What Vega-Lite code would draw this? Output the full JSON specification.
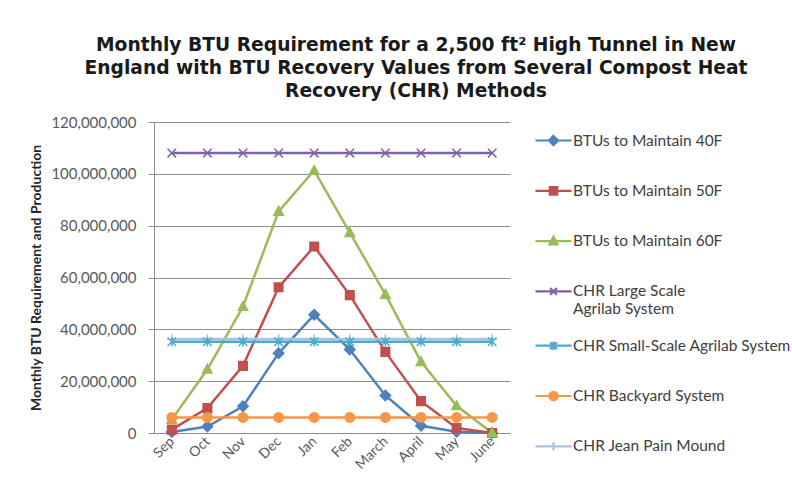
{
  "$schema": "https://vega.github.io/schema/vega-lite/v6.json",
  "autosize": "none",
  "width": 356,
  "height": 311,
  "padding": {"left": 154, "top": 122, "right": 282, "bottom": 62},
  "background": "#ffffff",
  "config": {
    "font": "Lato",
    "view": {"stroke": null},
    "legend": {
      "orient": "right",
      "offset": 24.5,
      "padding": 0,
      "symbolSize": 1156,
      "symbolStrokeWidth": 2.2,
      "symbolOpacity": 1,
      "labelFont": "Lato",
      "labelFontSize": 15.5,
      "labelColor": "#404040",
      "labelOffset": 1,
      "labelLimit": 320,
      "rowPadding": 5.3
    }
  },
  "title": {
    "text": [
      "Monthly BTU Requirement for a 2,500 ft² High Tunnel in New",
      "England with BTU Recovery Values from Several Compost Heat",
      "Recovery (CHR) Methods"
    ],
    "font": "DejaVu Sans",
    "fontSize": 18.7,
    "fontWeight": "bold",
    "color": "#1a1a1a",
    "anchor": "middle",
    "frame": "group",
    "dx": 84,
    "offset": 14,
    "lineHeight": 23
  },
  "data": {
    "values": [
      {"month": "Sep", "series": "BTUs to Maintain 40F", "value": 400000},
      {"month": "Oct", "series": "BTUs to Maintain 40F", "value": 2500000},
      {"month": "Nov", "series": "BTUs to Maintain 40F", "value": 10300000},
      {"month": "Dec", "series": "BTUs to Maintain 40F", "value": 30800000},
      {"month": "Jan", "series": "BTUs to Maintain 40F", "value": 45600000},
      {"month": "Feb", "series": "BTUs to Maintain 40F", "value": 32200000},
      {"month": "March", "series": "BTUs to Maintain 40F", "value": 14500000},
      {"month": "April", "series": "BTUs to Maintain 40F", "value": 2800000},
      {"month": "May", "series": "BTUs to Maintain 40F", "value": 500000},
      {"month": "June", "series": "BTUs to Maintain 40F", "value": 0},

      {"month": "Sep", "series": "BTUs to Maintain 50F", "value": 1300000},
      {"month": "Oct", "series": "BTUs to Maintain 50F", "value": 9600000},
      {"month": "Nov", "series": "BTUs to Maintain 50F", "value": 25900000},
      {"month": "Dec", "series": "BTUs to Maintain 50F", "value": 56200000},
      {"month": "Jan", "series": "BTUs to Maintain 50F", "value": 72000000},
      {"month": "Feb", "series": "BTUs to Maintain 50F", "value": 53200000},
      {"month": "March", "series": "BTUs to Maintain 50F", "value": 31300000},
      {"month": "April", "series": "BTUs to Maintain 50F", "value": 12300000},
      {"month": "May", "series": "BTUs to Maintain 50F", "value": 1900000},
      {"month": "June", "series": "BTUs to Maintain 50F", "value": 0},

      {"month": "Sep", "series": "BTUs to Maintain 60F", "value": 5200000},
      {"month": "Oct", "series": "BTUs to Maintain 60F", "value": 24600000},
      {"month": "Nov", "series": "BTUs to Maintain 60F", "value": 48800000},
      {"month": "Dec", "series": "BTUs to Maintain 60F", "value": 85500000},
      {"month": "Jan", "series": "BTUs to Maintain 60F", "value": 101300000},
      {"month": "Feb", "series": "BTUs to Maintain 60F", "value": 77300000},
      {"month": "March", "series": "BTUs to Maintain 60F", "value": 53500000},
      {"month": "April", "series": "BTUs to Maintain 60F", "value": 27500000},
      {"month": "May", "series": "BTUs to Maintain 60F", "value": 10500000},
      {"month": "June", "series": "BTUs to Maintain 60F", "value": 0},

      {"month": "Sep", "series": "CHR Large Scale Agrilab System", "value": 108000000},
      {"month": "Oct", "series": "CHR Large Scale Agrilab System", "value": 108000000},
      {"month": "Nov", "series": "CHR Large Scale Agrilab System", "value": 108000000},
      {"month": "Dec", "series": "CHR Large Scale Agrilab System", "value": 108000000},
      {"month": "Jan", "series": "CHR Large Scale Agrilab System", "value": 108000000},
      {"month": "Feb", "series": "CHR Large Scale Agrilab System", "value": 108000000},
      {"month": "March", "series": "CHR Large Scale Agrilab System", "value": 108000000},
      {"month": "April", "series": "CHR Large Scale Agrilab System", "value": 108000000},
      {"month": "May", "series": "CHR Large Scale Agrilab System", "value": 108000000},
      {"month": "June", "series": "CHR Large Scale Agrilab System", "value": 108000000},

      {"month": "Sep", "series": "CHR Jean Pain Mound", "value": 36300000},
      {"month": "Oct", "series": "CHR Jean Pain Mound", "value": 36300000},
      {"month": "Nov", "series": "CHR Jean Pain Mound", "value": 36300000},
      {"month": "Dec", "series": "CHR Jean Pain Mound", "value": 36300000},
      {"month": "Jan", "series": "CHR Jean Pain Mound", "value": 36300000},
      {"month": "Feb", "series": "CHR Jean Pain Mound", "value": 36300000},
      {"month": "March", "series": "CHR Jean Pain Mound", "value": 36300000},
      {"month": "April", "series": "CHR Jean Pain Mound", "value": 36300000},
      {"month": "May", "series": "CHR Jean Pain Mound", "value": 36300000},
      {"month": "June", "series": "CHR Jean Pain Mound", "value": 36300000},

      {"month": "Sep", "series": "CHR Small-Scale Agrilab System", "value": 35200000},
      {"month": "Oct", "series": "CHR Small-Scale Agrilab System", "value": 35200000},
      {"month": "Nov", "series": "CHR Small-Scale Agrilab System", "value": 35200000},
      {"month": "Dec", "series": "CHR Small-Scale Agrilab System", "value": 35200000},
      {"month": "Jan", "series": "CHR Small-Scale Agrilab System", "value": 35200000},
      {"month": "Feb", "series": "CHR Small-Scale Agrilab System", "value": 35200000},
      {"month": "March", "series": "CHR Small-Scale Agrilab System", "value": 35200000},
      {"month": "April", "series": "CHR Small-Scale Agrilab System", "value": 35200000},
      {"month": "May", "series": "CHR Small-Scale Agrilab System", "value": 35200000},
      {"month": "June", "series": "CHR Small-Scale Agrilab System", "value": 35200000},

      {"month": "Sep", "series": "CHR Backyard System", "value": 6000000},
      {"month": "Oct", "series": "CHR Backyard System", "value": 6000000},
      {"month": "Nov", "series": "CHR Backyard System", "value": 6000000},
      {"month": "Dec", "series": "CHR Backyard System", "value": 6000000},
      {"month": "Jan", "series": "CHR Backyard System", "value": 6000000},
      {"month": "Feb", "series": "CHR Backyard System", "value": 6000000},
      {"month": "March", "series": "CHR Backyard System", "value": 6000000},
      {"month": "April", "series": "CHR Backyard System", "value": 6000000},
      {"month": "May", "series": "CHR Backyard System", "value": 6000000},
      {"month": "June", "series": "CHR Backyard System", "value": 6000000}
    ]
  },
  "encoding": {
    "x": {
      "field": "month",
      "type": "ordinal",
      "sort": ["Sep", "Oct", "Nov", "Dec", "Jan", "Feb", "March", "April", "May", "June"],
      "scale": {"type": "point", "padding": 0.5},
      "axis": {
        "title": null,
        "labelAngle": -45,
        "labelAlign": "right",
        "labelBaseline": "middle",
        "labelFontSize": 14,
        "labelColor": "#595959",
        "labelPadding": 6,
        "ticks": false,
        "domainColor": "#8c8c8c",
        "grid": false
      }
    },
    "y": {
      "field": "value",
      "type": "quantitative",
      "scale": {"domain": [0, 120000000], "nice": false},
      "axis": {
        "title": "Monthly BTU Requirement and Production",
        "titleFontSize": 14,
        "titleFontWeight": "bold",
        "titleColor": "#262626",
        "titlePadding": 7,
        "values": [0, 20000000, 40000000, 60000000, 80000000, 100000000, 120000000],
        "format": ",d",
        "labelFontSize": 15,
        "labelColor": "#595959",
        "labelPadding": 12,
        "tickSize": 6,
        "tickColor": "#8c8c8c",
        "domainColor": "#8c8c8c",
        "gridColor": "#8e8e8e",
        "gridWidth": 1
      }
    }
  },
  "layer": [
    {
      "mark": {"type": "line", "strokeWidth": 2.5},
      "encoding": {
        "stroke": {
          "field": "series",
          "type": "nominal",
          "scale": {
            "domain": ["BTUs to Maintain 40F", "BTUs to Maintain 50F", "BTUs to Maintain 60F", "CHR Large Scale Agrilab System", "CHR Small-Scale Agrilab System", "CHR Backyard System", "CHR Jean Pain Mound"],
            "range": ["#4F81BD", "#C0504D", "#9BBB59", "#7E63A6", "#4BACC6", "#F79646", "#A9C3E6"]
          },
          "legend": null
        }
      }
    },
    {
      "mark": {"type": "point", "filled": true, "size": 90, "strokeWidth": 1.5, "opacity": 1},
      "encoding": {
        "fill": {
          "field": "series",
          "type": "nominal",
          "scale": {
            "domain": ["BTUs to Maintain 40F", "BTUs to Maintain 50F", "BTUs to Maintain 60F", "CHR Large Scale Agrilab System", "CHR Small-Scale Agrilab System", "CHR Backyard System", "CHR Jean Pain Mound"],
            "range": ["#4F81BD", "#C0504D", "#9BBB59", "#7E63A6", "#4BACC6", "#F79646", "#A9C3E6"]
          },
          "legend": null
        },
        "stroke": {
          "field": "series",
          "type": "nominal",
          "scale": {
            "domain": ["BTUs to Maintain 40F", "BTUs to Maintain 50F", "BTUs to Maintain 60F", "CHR Large Scale Agrilab System", "CHR Small-Scale Agrilab System", "CHR Backyard System", "CHR Jean Pain Mound"],
            "range": ["#4F81BD", "#C0504D", "#9BBB59", "#7E63A6", "#4BACC6", "#F79646", "#A9C3E6"]
          },
          "legend": null
        },
        "shape": {
          "field": "series",
          "type": "nominal",
          "scale": {
            "domain": ["BTUs to Maintain 40F", "BTUs to Maintain 50F", "BTUs to Maintain 60F", "CHR Large Scale Agrilab System", "CHR Small-Scale Agrilab System", "CHR Backyard System", "CHR Jean Pain Mound"],
            "range": [
              "M0,-1.1L1.1,0L0,1.1L-1.1,0Z",
              "M-0.9,-0.9H0.9V0.9H-0.9Z",
              "M0,-1.05L1,0.8H-1Z",
              "M-0.9,-0.9L0.9,0.9M-0.9,0.9L0.9,-0.9",
              "M-0.9,-0.9L0.9,0.9M-0.9,0.9L0.9,-0.9M0,-1V1",
              "circle",
              "M-1,0H1M0,-1V1"
            ]
          },
          "legend": null
        }
      }
    },
    {
      "transform": [{"filter": "false"}],
      "mark": {"type": "point", "filled": true, "opacity": 1},
      "encoding": {
        "fill": {
          "field": "series",
          "type": "nominal",
          "scale": {
            "domain": ["BTUs to Maintain 40F", "BTUs to Maintain 50F", "BTUs to Maintain 60F", "CHR Large Scale Agrilab System", "CHR Small-Scale Agrilab System", "CHR Backyard System", "CHR Jean Pain Mound"],
            "range": ["#4F81BD", "#C0504D", "#9BBB59", "#7E63A6", "#4BACC6", "#F79646", "#A9C3E6"]
          },
          "legend": {
            "title": null,
            "labelExpr": "datum.label == 'CHR Large Scale Agrilab System' ? ['CHR Large Scale', 'Agrilab System'] : datum.label"
          }
        },
        "stroke": {
          "field": "series",
          "type": "nominal",
          "scale": {
            "domain": ["BTUs to Maintain 40F", "BTUs to Maintain 50F", "BTUs to Maintain 60F", "CHR Large Scale Agrilab System", "CHR Small-Scale Agrilab System", "CHR Backyard System", "CHR Jean Pain Mound"],
            "range": ["#4F81BD", "#C0504D", "#9BBB59", "#7E63A6", "#4BACC6", "#F79646", "#A9C3E6"]
          },
          "legend": {
            "title": null,
            "labelExpr": "datum.label == 'CHR Large Scale Agrilab System' ? ['CHR Large Scale', 'Agrilab System'] : datum.label"
          }
        },
        "shape": {
          "field": "series",
          "type": "nominal",
          "scale": {
            "domain": ["BTUs to Maintain 40F", "BTUs to Maintain 50F", "BTUs to Maintain 60F", "CHR Large Scale Agrilab System", "CHR Small-Scale Agrilab System", "CHR Backyard System", "CHR Jean Pain Mound"],
            "range": [
              "M0,-1.06M0,1.06M-1.06,0H1.06M0,-0.27L0.27,0L0,0.27L-0.27,0Z",
              "M0,-1.06M0,1.06M-1.06,0H1.06M-0.22,-0.22H0.22V0.22H-0.22Z",
              "M0,-1.06M0,1.06M-1.06,0H1.06M0,-0.26L0.24,0.2H-0.24Z",
              "M0,-1.06M0,1.06M-1.06,0H1.06M-0.2,-0.2L0.2,0.2M-0.2,0.2L0.2,-0.2",
              "M0,-1.06M0,1.06M-1.06,0H1.06M-0.2,-0.2L0.2,0.2M-0.2,0.2L0.2,-0.2M0,-0.25V0.25",
              "M0,-1.06M0,1.06M-1.06,0H1.06M0.25,0A0.25,0.25,0,1,1,-0.25,0A0.25,0.25,0,1,1,0.25,0Z",
              "M0,-1.06M0,1.06M-1.06,0H1.06M0,-0.25V0.25"
            ]
          },
          "legend": {
            "title": null,
            "labelExpr": "datum.label == 'CHR Large Scale Agrilab System' ? ['CHR Large Scale', 'Agrilab System'] : datum.label"
          }
        }
      }
    }
  ],
  "resolve": {"scale": {"fill": "independent", "stroke": "independent", "shape": "independent"}}
}
